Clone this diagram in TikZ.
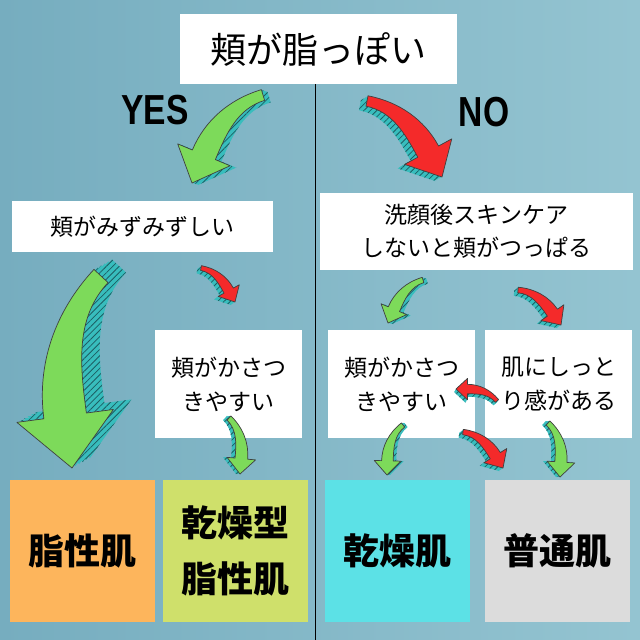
\documentclass[tikz,border=0pt]{standalone}
\usepackage{fontspec}
\usepackage{graphicx}
\usetikzlibrary{calc,patterns.meta}
\newfontfamily\jp{Noto Sans CJK JP}
\newfontfamily\lat{Liberation Sans}
\definecolor{bgl}{HTML}{76ADBF}
\definecolor{bgr}{HTML}{94C4D1}
\definecolor{agreen}{HTML}{7DDA5A}
\definecolor{ared}{HTML}{F42A2A}
\definecolor{shteal}{HTML}{38BDBD}
\definecolor{hatchc}{HTML}{1D5E63}
\definecolor{corange}{HTML}{FDB55C}
\definecolor{clime}{HTML}{CFE06B}
\definecolor{ccyan}{HTML}{5CE1E6}
\definecolor{cgray}{HTML}{DCDCDC}
\newcommand\arrshape{(-0.028,0.041) .. controls (0.22,0.21) and (0.502,0.259) .. (0.771,0.181) -- (0.81,0.316) -- (1,0) -- (0.67,-0.166) -- (0.709,-0.031) .. controls (0.469,0.039) and (0.234,0.10) .. (0.028,-0.041) -- cycle}
% #1 from, #2 to, #3 bulge angle, #4 colour, #5 shadow dx, #6 shadow dy
\newcommand\blockarrow[6]{%
  \foreach \k in {0.2,0.4,0.6,0.8,1}{%
    \fill[shteal, postaction={pattern={Lines[angle=45,distance=4.5pt,line width=0.8pt]}, pattern color=hatchc},
      shift={($(#1)+\k*(#5,#6)$)}, x={($(#2)-(#1)$)}, y={($(#1)!1!#3:(#2)-(#1)$)}] \arrshape;}
  \filldraw[fill=#4, draw=black!75, line width=0.7pt, line join=round,
    shift={(#1)}, x={($(#2)-(#1)$)}, y={($(#1)!1!#3:(#2)-(#1)$)}] \arrshape;
}
\begin{document}
\begin{tikzpicture}[x=1pt, y=-1pt,
  box/.style={fill=white, inner sep=0pt, align=center, font=\jp\fontsize{23}{34}\selectfont},
  result/.style={inner sep=0pt, align=center, minimum width=145pt, minimum height=142pt, font=\jp\bfseries\fontsize{36}{56}\selectfont},
  yesno/.style={inner sep=0pt, font=\lat\bfseries\fontsize{42}{46}\selectfont}]
\useasboundingbox (0,0) rectangle (640,640);
\fill[left color=bgl, right color=bgr] (0,0) rectangle (640,640);
% title and divider
\node[box, minimum width=277pt, minimum height=70pt, font=\jp\fontsize{36}{40}\selectfont] (title) at (318.5,49) {頬が脂っぽい};
\coordinate (divend) at (315,640);
\draw[line width=0.8pt] (title.south -| divend) -- (divend);
\node[yesno] (yes) at (155,110) {\scalebox{0.8}[1]{YES}};
\node[yesno] (no) at (484,112) {\scalebox{0.8}[1]{NO}};
% question boxes
\node[box, minimum width=261pt, minimum height=51pt] (q1) at (142.5,226.5) {頬がみずみずしい};
\node[box, minimum width=313pt, minimum height=77pt, font=\jp\fontsize{23}{33}\selectfont] (q2) at (476.5,231.5) {洗顔後スキンケア\\しないと頬がつっぱる};
\node[box, minimum width=147pt, minimum height=108pt] (q3) at (228.5,384) {頬がかさつ\\きやすい};
\node[box, minimum width=147pt, minimum height=108pt] (q4) at (401.5,384) {頬がかさつ\\きやすい};
\node[box, minimum width=147pt, minimum height=108pt] (q5) at (558.5,384) {肌にしっと\\り感がある};
% results
\node[result, fill=corange] (r1) at (82.5,551) {脂性肌};
\node[result, fill=clime] (r2) at (235.5,551) {乾燥型\\脂性肌};
\node[result, fill=ccyan] (r3) at (397.5,551) {乾燥肌};
\node[result, fill=cgray] (r4) at (557.5,551) {普通肌};
% arrow end points
\coordinate (a1s) at (263,95);  \coordinate (a1t) at (192,183);
\coordinate (a2s) at (367,101); \coordinate (a2t) at (442,177);
\coordinate (a3s) at (101,276); \coordinate (a3t) at (72,468);
\coordinate (a4s) at (201,268); \coordinate (a4t) at (235,302);
\coordinate (a5s) at (229,418); \coordinate (a5t) at (240,474);
\coordinate (a6s) at (423,280); \coordinate (a6t) at (388,323);
\coordinate (a7s) at (518,290); \coordinate (a7t) at (561,325);
\coordinate (a8s) at (497,401); \coordinate (a8t) at (456,389);
\coordinate (a9s) at (403,425); \coordinate (a9t) at (387,475);
\coordinate (a10s) at (463,432); \coordinate (a10t) at (503,468);
\coordinate (a11s) at (548,423); \coordinate (a11t) at (560,477);
\blockarrow{a1s}{a1t}{-90}{agreen}{6}{2}
\blockarrow{a2s}{a2t}{90}{ared}{-7}{4}
\blockarrow{a3s}{a3t}{-90}{agreen}{18}{-10}
\blockarrow{a4s}{a4t}{90}{ared}{-4}{3}
\blockarrow{a5s}{a5t}{90}{agreen}{-4}{0}
\blockarrow{a6s}{a6t}{-90}{agreen}{4}{1}
\blockarrow{a7s}{a7t}{90}{ared}{-4}{3}
\blockarrow{a8s}{a8t}{-90}{ared}{-2}{3}
\blockarrow{a9s}{a9t}{-90}{agreen}{3}{0}
\blockarrow{a10s}{a10t}{90}{ared}{-4}{3}
\blockarrow{a11s}{a11t}{90}{agreen}{-4}{0}
\end{tikzpicture}
\end{document}
